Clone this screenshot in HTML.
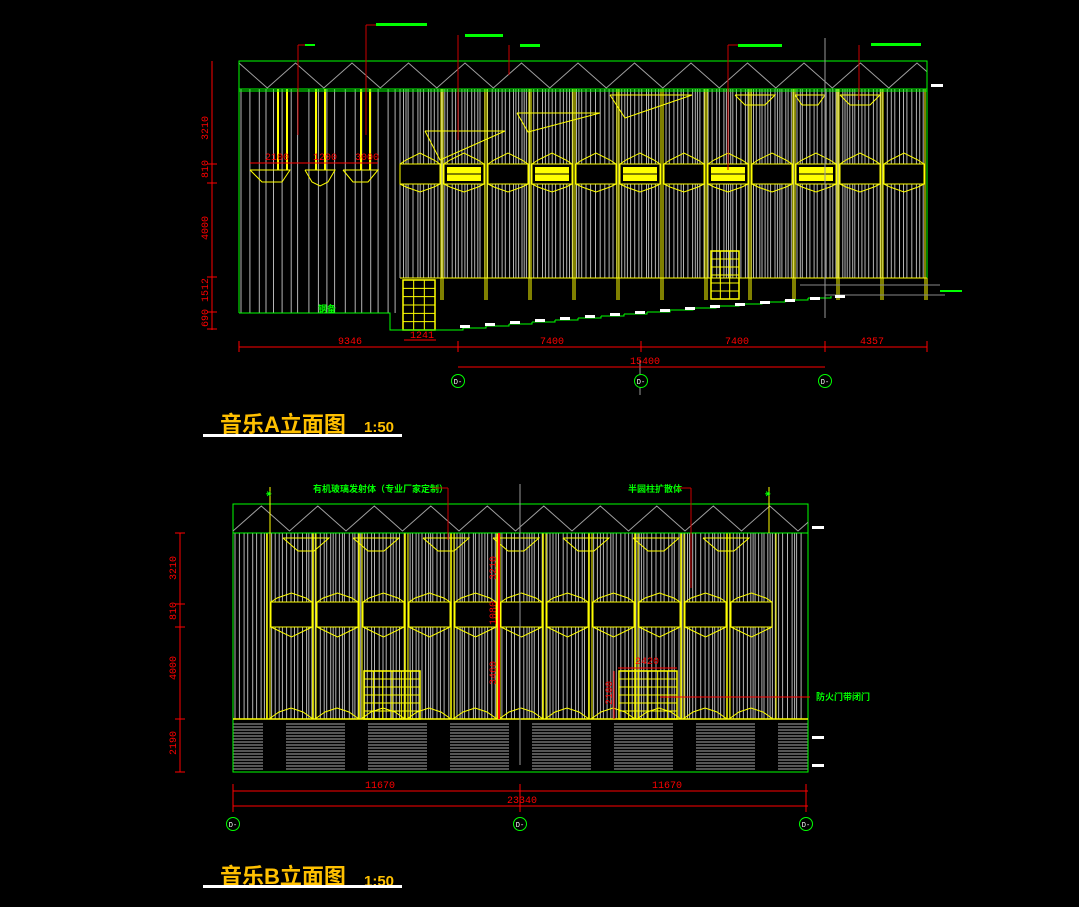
<!DOCTYPE html>
<html><head><meta charset="utf-8">
<style>
html,body{margin:0;padding:0;background:#000;width:1079px;height:907px;overflow:hidden}
svg{display:block}
.t{font-family:"Liberation Sans","Noto Sans CJK SC",sans-serif;font-weight:bold;fill:#ffc000}
.r{font-family:"Liberation Mono",monospace;fill:#f00;font-size:10px}
.g{font-family:"Liberation Sans","Noto Sans CJK SC",sans-serif;fill:#0f0;font-size:9px;font-weight:bold}
</style></head><body>
<svg id="s" width="1079" height="907" viewBox="0 0 1079 907" xmlns="http://www.w3.org/2000/svg">
<text class="t" x="220" y="432" font-size="22">音乐A立面图</text>
<text class="t" x="364" y="432" font-size="15" font-weight="normal">1:50</text>
<rect x="203" y="434" width="199" height="3" fill="#fff"/>
<text class="t" x="220" y="884" font-size="22">音乐B立面图</text>
<text class="t" x="364" y="886" font-size="15" font-weight="normal">1:50</text>
<rect x="203" y="885" width="199" height="3" fill="#fff"/>
<g id="gen"></g>
</svg>
<script>
var o='';
function L(x1,y1,x2,y2,c,w){o+='<line x1="'+x1+'" y1="'+y1+'" x2="'+x2+'" y2="'+y2+'" stroke="'+c+'" stroke-width="'+(w||1)+'"/>';}
function R(x,y,w,h,c,f,sw){o+='<rect x="'+x+'" y="'+y+'" width="'+w+'" height="'+h+'" stroke="'+(c||'none')+'" fill="'+(f||'none')+'" stroke-width="'+(sw||1)+'"/>';}
function P(pts,c,f){o+='<polyline points="'+pts+'" stroke="'+c+'" fill="'+(f||'none')+'" stroke-width="1"/>';}
function T(x,y,s,cls,extra){o+='<text class="'+cls+'" x="'+x+'" y="'+y+'" '+(extra||'')+'>'+s+'</text>';}
var seed=7;function rnd(){seed=(seed*9301+49297)%233280;return seed/233280;}
function grays(x1,x2,y1,y2,dense){for(var x=x1;x<x2;x+=dense?(2+rnd()*3):(6+rnd()*6)){L(x.toFixed(1),y1,x.toFixed(1),y2,'#b4b4b4',1);}}
// zigzag: startHigh true => starts at peak (y1)
function roof(x1,x2,y1,y2,step,startHigh){var pts=[];var hi=startHigh;var x=x1;
 while(x<x2){pts.push(x.toFixed(1)+','+(hi?y1:y2));var nx=x+step/2;
  if(nx>x2){var f=(x2-x)/(step/2);var ya=hi?y1:y2,yb=hi?y2:y1;pts.push(x2+','+(ya+(yb-ya)*f).toFixed(1));break;}
  x=nx;hi=!hi;}
 if(x>=x2)pts.push(x2+','+(hi?y1:y2));
 P(pts.join(' '),'#a0a0a0');}
function lantern(x,w,yt,yr,yb,ye,fill){var m=x+w/2;
 P(x+','+yr+' '+(x+w*0.15)+','+(yr-4)+' '+m+','+yt+' '+(x+w*0.85)+','+(yr-4)+' '+(x+w)+','+yr,'#ff0');
 R(x,yr,w,yb-yr,'#ff0','#000');
 P(x+','+yb+' '+(x+w*0.15)+','+(yb+3)+' '+m+','+ye+' '+(x+w*0.85)+','+(yb+3)+' '+(x+w)+','+yb,'#ff0');
 if(fill){R(x+3,yr+3,w-6,yb-yr-6,'none','#ff0');L(x+3,(yr+yb)/2,x+w-3,(yr+yb)/2,'#000',1);}
}
function circ(x,y){o+='<circle cx="'+x+'" cy="'+y+'" r="6.5" stroke="#0f0" fill="#000"/><text x="'+x+'" y="'+(y+3)+'" font-size="7" fill="#fff" text-anchor="middle" font-family="Liberation Mono">D-</text>';}
function door(x,y,w,h){R(x,y,w,h,'#ff0','none',1.5);var n=Math.round(w/10);for(var i=1;i<n;i++)L(x+i*w/n,y,x+i*w/n,y+h,'#ff0');for(var j=1;j<6;j++)L(x,y+j*h/6,x+w,y+j*h/6,'#ff0');}

// ===== A =====
grays(241,400,89,313,false);
grays(400,925,89,278,true);
[278,287,316,325,361,370].forEach(function(x){L(x,89,x,170,'#ff0',2)});
P('250,170 290,170 282,182 262,182 250,170','#ff0');
P('305,170 335,170 328,182 320,186 312,182 305,170','#ff0');
P('343,170 378,170 368,182 353,182 343,170','#ff0');
L(250,163,378,163,'#f00');
T(265,160,'2100','r');T(313,160,'1200','r');T(355,160,'3000','r');
for(var i=0;i<12;i++){var x=400+i*44;lantern(x,40,153,164,184,192,(i%2==1&&i<10));
 L(x+41,89,x+41,300,'#ff0',1);L(x+43,89,x+43,300,'#ff0',1);}
P('425,131 505,131 440,160 425,131','#ff0');P('517,113 600,113 528,132 517,113','#ff0');P('610,95 692,95 625,118 610,95','#ff0');
P('735,95 775,95 765,105 745,105 735,95','#ff0');P('795,95 825,95 818,105 802,105 795,95','#ff0');P('840,95 880,95 870,105 850,105 840,95','#ff0');
door(403,280,32,50);door(711,251,28,48);
R(239,61,688,28,'#0f0');roof(239,927,63,88,56.5,true);
L(239,61,239,313,'#0f0');L(927,61,927,278,'#0f0');
L(239,91,927,91,'#0f0');
L(400,278,927,278,'#ff0');
P('239,313 390,313 390,330 440,330','#0f0');
var sx=440,sy=330;for(var k=0;k<17;k++){var nx=sx+23;P(sx+','+sy+' '+nx+','+sy+' '+nx+','+(sy-2),'#0f0');sx=nx;sy-=2;}
L(825,295,945,295,'#888');L(800,285,940,285,'#888');R(940,290,22,2,'none','#0f0');
L(298,45,298,135,'#c00');L(298,45,306,45,'#c00');R(305,44,10,2,'none','#0f0');
L(366,25,366,135,'#c00');L(366,25,376,25,'#c00');R(376,23,51,3,'none','#0f0');
L(458,35,458,140,'#c00');R(465,34,38,3,'none','#0f0');
L(509,45,509,75,'#c00');R(520,44,20,3,'none','#0f0');
L(728,45,728,170,'#c00');L(728,45,738,45,'#c00');R(738,44,44,3,'none','#0f0');
L(859,45,859,100,'#c00');R(871,43,50,3,'none','#0f0');
L(825,38,825,318,'#999');L(640,360,640,395,'#999');
L(212,61,212,330,'#f00');[164,183,277,312,329].forEach(function(y){L(207,y,217,y,'#f00')});
T(208,140,'3210','r','transform="rotate(-90 208 140)"');T(208,178,'810','r','transform="rotate(-90 208 178)"');
T(208,240,'4000','r','transform="rotate(-90 208 240)"');T(208,302,'1512','r','transform="rotate(-90 208 302)"');T(208,327,'690','r','transform="rotate(-90 208 327)"');
L(239,347,927,347,'#f00');[239,458,641,825,927].forEach(function(x){L(x,341,x,352,'#f00')});
T(338,344,'9346','r');T(540,344,'7400','r');T(725,344,'7400','r');T(860,344,'4357','r');
L(458,367,825,367,'#f00');T(630,364,'15400','r');
L(404,340,436,340,'#f00');T(410,338,'1241','r');
circ(458,381);circ(641,381);circ(825,381);
for(var k=0;k<16;k++){R(460+k*25,325-k*2,10,3,'none','#fff');}
T(318,312,'钢备','g');
R(931,84,12,3,'none','#fff');

// ===== B =====
grays(235,806,533,719,true);
for(var i=0;i<11;i++){var x=271+i*46;lantern(x,41,593,602,627,637,false);
 L(x-4,533,x-4,719,'#ff0',1.5);L(x+45,533,x+45,719,'#ff0',1);
 P((x-2)+',719 '+(x+8)+',712 '+(x+20)+',708 '+(x+32)+',712 '+(x+42)+',719','#ff0');}
for(var i=0;i<7;i++){var c=306+i*70;P((c-23)+',538 '+(c+23)+',538 '+(c+8)+',551 '+(c-8)+',551 '+(c-23)+',538','#ff0');}
[[233,263],[286,345],[368,427],[450,509],[532,591],[614,673],[696,755],[778,808]].forEach(function(b){for(var y=724;y<771;y+=3)L(b[0],y,b[1],y,'#aaa');});
R(233,504,575,268,'#0f0');R(233,504,575,29,'#0f0');roof(233,808,531,506,56.5,true);
L(233,719,808,719,'#ff0',1.5);L(233,533,808,533,'#0f0');
door(364,671,56,48);door(619,671,58,48);
L(499,533,499,719,'#f00',2);T(496,580,'3210','r','transform="rotate(-90 496 580)"');T(496,625,'1080','r','transform="rotate(-90 496 625)"');T(496,685,'3460','r','transform="rotate(-90 496 685)"');
L(618,668,677,668,'#f00');T(635,664,'2420','r');L(614,671,614,719,'#f00');T(612,705,'2100','r','transform="rotate(-90 612 705)"');
L(660,697,810,697,'#f00');T(816,700,'防火门带闭门','g');
T(313,492,'有机玻璃发射体（专业厂家定制）','g');L(432,488,448,488,'#c00');L(448,488,448,540,'#c00');
T(628,492,'半圆柱扩散体','g');L(678,488,691,488,'#c00');L(691,488,691,588,'#c00');
L(270,487,270,719,'#ff0');L(769,487,769,533,'#ff0');L(520,484,520,765,'#999');
T(266,496,'⚹','g','fill="#fff"');T(765,496,'⚹','g','fill="#fff"');
L(180,533,180,772,'#f00');[533,604,627,719,772].forEach(function(y){L(175,y,185,y,'#f00')});
T(176,580,'3210','r','transform="rotate(-90 176 580)"');T(176,620,'810','r','transform="rotate(-90 176 620)"');T(176,680,'4000','r','transform="rotate(-90 176 680)"');T(176,755,'2190','r','transform="rotate(-90 176 755)"');
L(233,791,808,791,'#f00');L(233,806,808,806,'#f00');[233,520,806].forEach(function(x){L(x,784,x,812,'#f00')});
T(365,788,'11670','r');T(652,788,'11670','r');T(507,803,'23340','r');
circ(233,824);circ(520,824);circ(806,824);
R(812,526,12,3,'none','#fff');R(812,736,12,3,'none','#fff');R(812,764,12,3,'none','#fff');
document.getElementById('gen').innerHTML=o;
</script>
</body></html>
